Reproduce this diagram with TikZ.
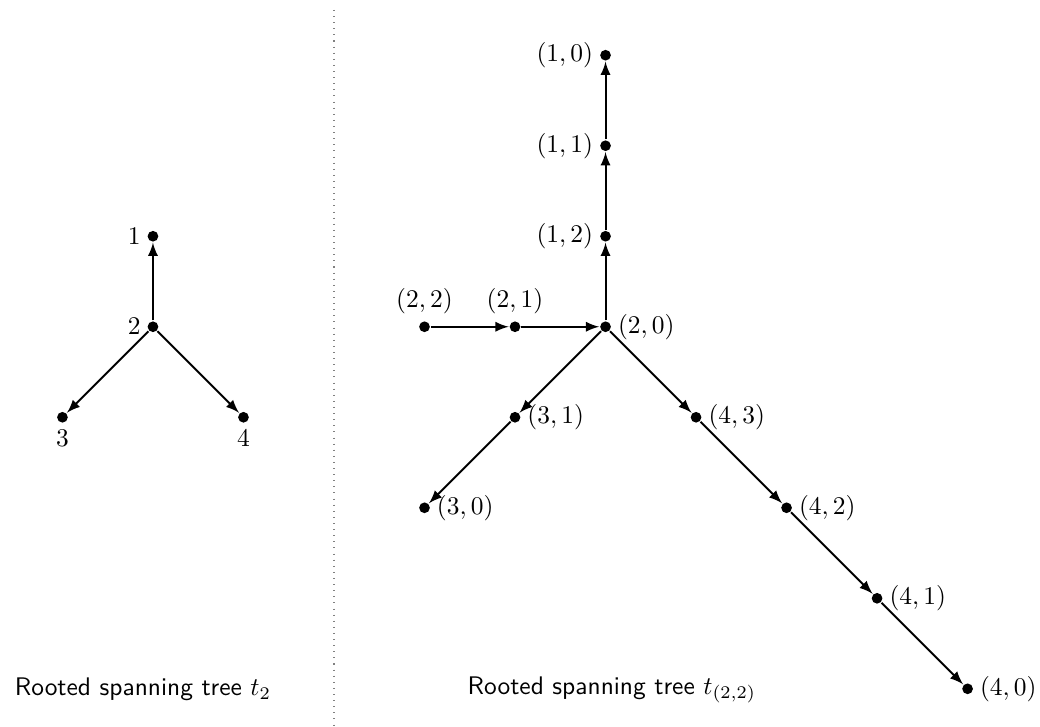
\documentclass[tikz,border=0pt]{standalone}
\usepackage{amsmath}
\usepackage{amssymb}
\usetikzlibrary{positioning,arrows}

\begin{document}
\begin{tikzpicture}[x=1.25cm, y=1.25cm, thick, >=latex,
		vert/.style={circle, fill, inner sep=0pt, minimum size=4.2pt},
		every label/.style={inner sep=2pt}]
		\useasboundingbox (-1.69,-4.42) rectangle (9.80,3.61);
		% left tree
		\node[vert, label=left:$1$] (a1) at (0,1) {};
		\node[vert, label=left:$2$] (a2) at (0,0) {};
		\node[vert, label=below:$3$] (a3) at (-1,-1) {};
		\node[vert, label=below:$4$] (a4) at (1,-1) {};
		\draw[->] (a2) -- (a1);
		\draw[->] (a2) -- (a3);
		\draw[->] (a2) -- (a4);
		\node (lt) at (-0.11,-4.01) {\textsf{Rooted spanning tree} $t_2$};
		% separator
		\draw[dotted, thin, gray] (2,3.5) -- (2,-4.42);
		% right tree
		\node[vert, label=right:{$(2,0)$}] (b20) at (5,0) {};
		\node[vert, label=left:{$(1,2)$}] (b12) at (5,1) {};
		\node[vert, label=left:{$(1,1)$}] (b11) at (5,2) {};
		\node[vert, label=left:{$(1,0)$}] (b10) at (5,3) {};
		\node[vert, label=above:{$(2,1)$}] (b21) at (4,0) {};
		\node[vert, label=above:{$(2,2)$}] (b22) at (3,0) {};
		\node[vert, label=right:{$(3,1)$}] (b31) at (4,-1) {};
		\node[vert, label=right:{$(3,0)$}] (b30) at (3,-2) {};
		\node[vert, label=right:{$(4,3)$}] (b43) at (6,-1) {};
		\node[vert, label=right:{$(4,2)$}] (b42) at (7,-2) {};
		\node[vert, label=right:{$(4,1)$}] (b41) at (8,-3) {};
		\node[vert, label=right:{$(4,0)$}] (b40) at (9,-4) {};
		\draw[->] (b20) -- (b12);
		\draw[->] (b12) -- (b11);
		\draw[->] (b11) -- (b10);
		\draw[->] (b22) -- (b21);
		\draw[->] (b21) -- (b20);
		\draw[->] (b20) -- (b31);
		\draw[->] (b31) -- (b30);
		\draw[->] (b20) -- (b43);
		\draw[->] (b43) -- (b42);
		\draw[->] (b42) -- (b41);
		\draw[->] (b41) -- (b40);
		\node (rt) at (5.07,-4.01) {\textsf{Rooted spanning tree} $t_{(2,2)}$};
	\end{tikzpicture}
\end{document}
